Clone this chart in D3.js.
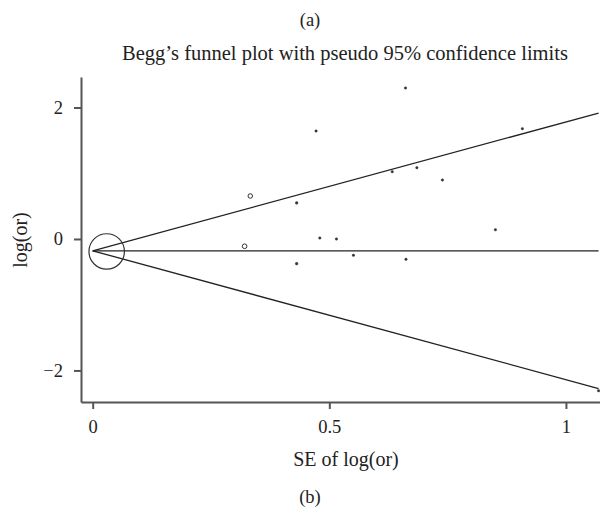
<!DOCTYPE html>
<html>
<head>
  <title>Begg's funnel plot</title>
  <script src="https://d3js.org/d3.v7.min.js"></script>
</head>
<body style="margin:0; background:#fff;">
  <style>
    text {
      font-family: "Liberation Serif", "DejaVu Serif", serif;
      fill: #222;
    }
    .axis path,
    .axis line {
      fill: none;
      stroke: #555;
      stroke-width: 2;
    }
    .axis text {
      font-size: 18.5px;
    }
  </style>

  <svg id="chart"></svg>

  <script>
    // studies: standard error and log odds ratio
    var se     = [0.0296, 0.321, 0.333, 0.431, 0.431, 0.472, 0.480, 0.515, 0.551, 0.633, 0.661, 0.662, 0.685, 0.739, 0.851, 0.908, 1.069];
    var logOr  = [-0.19, -0.111, 0.654, 0.548, -0.376, 1.643, 0.015, 0.0, -0.248, 1.024, 2.297, -0.309, 1.085, 0.897, 0.141, 1.678, -2.31];
    var pooled = -0.18;
    var z = 1.96;
    var xTicks = [0, 0.5, 1];
    var yTicks = [-2, 0, 2];

    var width = 600, height = 510;

    var svg = d3.select("#chart")
      .attr("width", width)
      .attr("height", height);

    var x = d3.scaleLinear().domain([-0.0247, 1.072]).range([81, 600]);
    var y = d3.scaleLinear().domain([-2.48, 2.464]).range([402, 77]);

    var seMax = d3.max(se);

    // funnel lines
    var line = d3.line().x(d => x(d[0])).y(d => y(d[1]));
    var lines = [
      [[0, pooled], [seMax, pooled]],
      [[0, pooled], [seMax, pooled + z * seMax]],
      [[0, pooled], [seMax, pooled - z * seMax]]
    ];
    svg.selectAll(".funnel")
      .data(lines)
      .enter()
      .append("path")
      .attr("class", "funnel")
      .attr("d", line)
      .attr("fill", "none")
      .attr("stroke", "#222")
      .attr("stroke-width", 1.3);

    // markers sized by precision
    var radius = d => 2.3 * Math.pow(0.327 / d, 0.85);
    var small = d => radius(d) < 2.0;
    svg.selectAll(".study")
      .data(se)
      .enter()
      .append("circle")
      .attr("class", "study")
      .attr("cx", d => x(d))
      .attr("cy", (d, i) => y(logOr[i]))
      .attr("r", d => small(d) ? Math.max(1.25, radius(d) - 0.45) : radius(d))
      .attr("fill", d => small(d) ? "#333" : "none")
      .attr("stroke", "#333")
      .attr("stroke-width", d => radius(d) > 5 ? 1.2 : (small(d) ? 0.4 : 1));

    // axes
    svg.append("g")
      .attr("class", "axis")
      .attr("transform", "translate(0,402)")
      .call(d3.axisBottom(x).tickValues(xTicks).tickFormat(d3.format("")).tickSize(7).tickSizeOuter(0).tickPadding(11));

    svg.append("g")
      .attr("class", "axis")
      .attr("transform", "translate(81,0)")
      .call(d3.axisLeft(y).tickValues(yTicks).tickFormat(d => d < 0 ? "\u2212" + Math.abs(d) : d).tickSize(7).tickSizeOuter(0).tickPadding(11));

    svg.selectAll(".axis text").attr("fill", "#222").style("fill", "#222");

    // titles
    svg.append("text")
      .attr("x", 310)
      .attr("y", 26)
      .attr("text-anchor", "middle")
      .style("font-size", "18.5px")
      .text("(a)");

    svg.append("text")
      .attr("x", 345)
      .attr("y", 60)
      .attr("text-anchor", "middle")
      .style("font-size", "20.5px")
      .text("Begg\u2019s funnel plot with pseudo 95% confidence limits");

    svg.append("text")
      .attr("x", 346)
      .attr("y", 466)
      .attr("text-anchor", "middle")
      .style("font-size", "20px")
      .text("SE of log(or)");

    svg.append("text")
      .attr("transform", "translate(27,240) rotate(-90)")
      .attr("text-anchor", "middle")
      .style("font-size", "20px")
      .text("log(or)");

    svg.append("text")
      .attr("x", 310)
      .attr("y", 503)
      .attr("text-anchor", "middle")
      .style("font-size", "18.5px")
      .text("(b)");
  </script>
</body>
</html>
